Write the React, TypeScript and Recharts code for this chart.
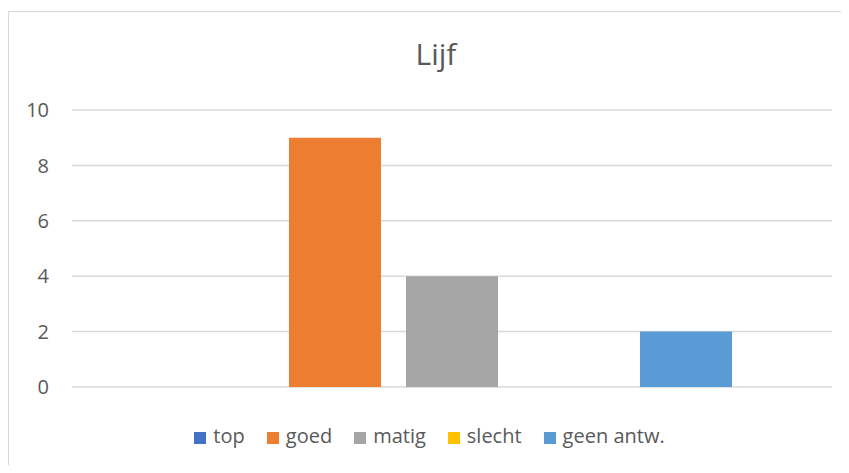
import React from "react";
import { BarChart, Bar, YAxis, XAxis, CartesianGrid, Legend } from "recharts";

const title = "Lijf";
const categories = ["Lijf"];
const seriesKeys = ["top", "goed", "matig", "slecht", "geen"];
const seriesNames = ["top", "goed", "matig", "slecht", "geen antw."];
const seriesColors = ["#4472C4", "#ED7D31", "#A5A5A5", "#FFC000", "#5B9BD5"];
const seriesValues = [[0], [9], [4], [0], [2]];
const yTicks = [0, 2, 4, 6, 8, 10];

const data = categories.map((c, i) => {
  const row: Record<string, any> = { name: c };
  seriesKeys.forEach((k, s) => {
    row[k] = seriesValues[s][i];
  });
  return row;
});

const FONT = "'Open Sans', 'DejaVu Sans', sans-serif";

const LegendContent = () => (
  <div
    style={{
      display: "flex",
      justifyContent: "center",
      alignItems: "center",
      fontFamily: FONT,
      fontSize: 20,
      color: "#595959",
      lineHeight: "24px",
      height: 24,
    }}
  >
    {seriesNames.map((n, i) => (
      <div
        key={n}
        style={{
          display: "flex",
          alignItems: "center",
          marginRight: i < seriesNames.length - 1 ? 22 : 0,
        }}
      >
        <div
          style={{
            width: 12,
            height: 12,
            background: seriesColors[i],
            marginRight: 7,
            marginTop: 3,
          }}
        />
        <span>{n}</span>
      </div>
    ))}
  </div>
);

export default function App() {
  return (
    <div
      style={{
        position: "relative",
        width: 833,
        height: 457,
        background: "#fff",
      }}
    >
      <div
        style={{
          position: "absolute",
          left: 0,
          top: 3,
          width: 841,
          height: 462,
          borderLeft: "1px solid #d9d9d9",
          borderTop: "1px solid #d9d9d9",
          boxSizing: "border-box",
        }}
      />
      <div
        style={{
          position: "absolute",
          left: 0,
          top: 26,
          width: 856,
          maxWidth: 841,
          paddingLeft: 15,
          boxSizing: "border-box",
          textAlign: "center",
          fontFamily: FONT,
          fontSize: 30,
          lineHeight: "40px",
          color: "#595959",
        }}
      >
        {title}
      </div>
      <div style={{ position: "absolute", left: 0, top: 0 }}>
        <BarChart
          width={841}
          height={465}
          data={data}
          margin={{ top: 102, right: 17, bottom: 62, left: 0 }}
          barCategoryGap={100}
          barGap={25}
        >
          <CartesianGrid vertical={false} stroke="#d9d9d9" strokeWidth={1.5} />
          <XAxis dataKey="name" hide />
          <YAxis
            width={64}
            domain={[0, 10]}
            ticks={yTicks}
            axisLine={false}
            tickLine={false}
            tickSize={0}
            tickMargin={23}
            tick={{ fill: "#595959", fontSize: 20, fontFamily: FONT }}
          />
          {seriesKeys.map((k, i) => (
            <Bar
              key={k}
              dataKey={k}
              name={seriesNames[i]}
              fill={seriesColors[i]}
              isAnimationActive={false}
            />
          ))}
          <Legend
            content={<LegendContent />}
            wrapperStyle={{ position: "absolute", top: 416, left: 0, width: 843 }}
          />
        </BarChart>
      </div>
    </div>
  );
}
